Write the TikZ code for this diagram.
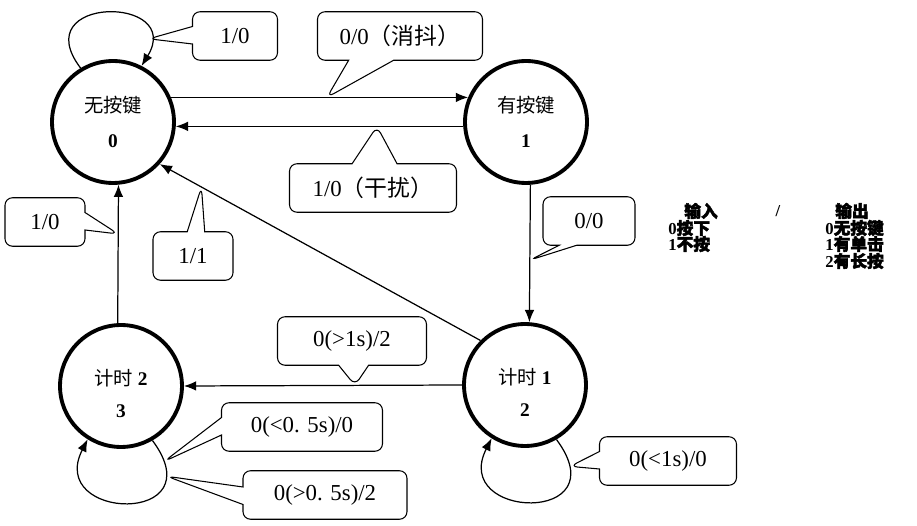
\documentclass[tikz,border=0pt]{standalone}
\usepackage{fontspec}
\setmainfont{Liberation Serif}
\newfontfamily\cjk{Noto Sans CJK SC}
\newfontfamily\cjkbold{Noto Sans CJK SC}[FakeBold=2.5]
\usepackage{tikz}
\usetikzlibrary{arrows.meta}
\usetikzlibrary{shapes.callouts}

\tikzset{
  state/.style={circle,draw=black,line width=2.2pt,minimum size=2.44cm,inner sep=0pt,align=center,font=\fontsize{11}{13}\selectfont},
  trans/.style={line width=0.7pt,-{Latex[length=7pt,width=5.5pt]}},
  bubble/.style={rectangle callout,draw=black,fill=white,line width=0.6pt,rounded corners=0.15cm,inner sep=0pt,minimum height=0.97cm,callout pointer width=0.35cm,font=\fontsize{13}{15}\selectfont},
  legend/.style={inner sep=0pt,font=\fontsize{9.5}{11}\selectfont\bfseries}
}

\begin{document}
\begin{tikzpicture}[x=0.02cm,y=-0.02cm]
%%\draw[step=50,color=black!20,dotted] (0,0) grid (917,526);
\useasboundingbox (0,0) rectangle (917,526);

% states
\node[state] (s0) at (113,122) {{\cjk 无按键}\\[7pt]\textbf{0}};
\node[state] (s1) at (526,122) {{\cjk 有按键}\\[7pt]\textbf{1}};
\node[state] (s2) at (525,385) {\rule{0pt}{18pt}{\cjk 计时} \textbf{1}\\[5pt]\textbf{2}};
\node[state] (s3) at (121,386) {\rule{0pt}{18pt}{\cjk 计时} \textbf{2}\\[5pt]\textbf{3}};

% transitions
\draw[trans] (s0.23) -- (s1.157) coordinate[pos=0.525] (pb);
\draw[trans] (s1.184) -- (s0.356) coordinate[pos=0.30] (pc);
\draw[trans] (s1.274) -- (s2.86) coordinate[pos=0.548] (pf);
\draw[trans] (s2.180) -- (s3.0) coordinate[pos=0.385] (pg);
\draw[trans] (s2.135) -- (s0.318) coordinate[pos=0.87] (pe);
\draw[trans] (s3.93) -- (s0.275) coordinate[pos=0.644] (pd);
\draw[trans] (s0.121) .. controls (25,-5) and (185,-5) .. (s0.63) coordinate[pos=0.85] (pa);
\draw[trans] (s2.300) .. controls (620,525) and (450,520) .. (s2.238) coordinate[pos=0.12] (pj);
\draw[trans] (s3.300) .. controls (216,526) and (46,521) .. (s3.238) coordinate[pos=0.09] (ph) coordinate[pos=0.17] (pi);

% labels
\node[bubble,minimum width=1.7cm,callout absolute pointer={(pa)}] (ca) at (235,36) {1/0};
\node[bubble,minimum width=3.3cm,callout pointer width=0.9cm,callout absolute pointer={(pb)}] (cb) at (400,36) {0/0{\cjk（消抖）}};
\node[bubble,minimum width=3.34cm,callout pointer width=0.9cm,callout absolute pointer={(pc)}] (cc) at (373,188) {1/0{\cjk（干扰）}};
\node[bubble,minimum width=1.6cm,callout absolute pointer={(pd)}] (cd) at (45,222) {1/0};
\node[bubble,minimum width=1.6cm,callout absolute pointer={(pe)}] (ce) at (193,256) {1/1};
\node[bubble,minimum width=1.84cm,callout absolute pointer={(pf)}] (cf) at (589,221) {0/0};
\node[bubble,minimum width=2.98cm,callout pointer width=0.6cm,callout absolute pointer={(pg)}] (cg) at (352,341) {0(>1s)/2};
\node[bubble,minimum width=3.22cm,callout absolute pointer={(ph)}] (ch) at (302,427) {0(<0. 5s)/0};
\node[bubble,minimum width=3.28cm,callout absolute pointer={(pi)}] (ci) at (325,495) {0(>0. 5s)/2};
\node[bubble,minimum width=2.74cm,callout absolute pointer={(pj)}] (cj) at (668,461) {0(<1s)/0};

% legend
\node[legend] (lin) at (701,211) {{\cjkbold 输入}};
\node[legend] (lsl) at (778,211) {/};
\node[legend] (lout) at (852,211) {{\cjkbold 输出}};
\node[legend,anchor=west] (i0) at (668,228) {0{\cjkbold 按下}};
\node[legend,anchor=west] (i1) at (668,244) {1{\cjkbold 不按}};
\node[legend,anchor=west] (o0) at (825,228) {0{\cjkbold 无按键}};
\node[legend,anchor=west] (o1) at (825,244) {1{\cjkbold 有单击}};
\node[legend,anchor=west] (o2) at (825,261) {2{\cjkbold 有长按}};
\end{tikzpicture}
\end{document}
